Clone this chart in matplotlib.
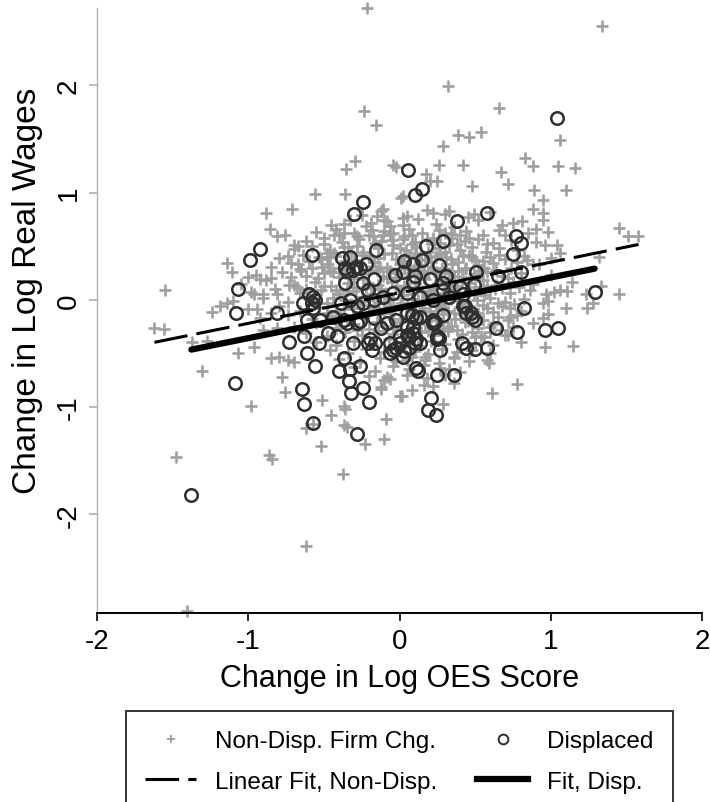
import matplotlib
matplotlib.use('Agg')
import matplotlib.pyplot as plt
from matplotlib.lines import Line2D
import numpy as np

plt.rcParams['font.family'] = ['Liberation Sans', 'DejaVu Sans']

# Non-displaced firm changers: dense core of the cloud (read row by row)
nondisp_core = [
    (-0.25, 0.79), (-0.12, 0.83), (0.05, 0.78), (0.18, 0.84), (0.30, 0.80), (0.45, 0.77), (0.60, 0.82),
    (-0.45, 0.70), (-0.33, 0.74), (-0.22, 0.69), (-0.08, 0.73), (0.02, 0.70), (0.12, 0.75), (0.24, 0.71),
    (0.36, 0.68), (0.52, 0.74), (0.68, 0.70),
    (-0.55, 0.63), (-0.42, 0.66), (-0.30, 0.62), (-0.18, 0.65), (-0.06, 0.61), (0.06, 0.66), (0.15, 0.62),
    (0.26, 0.65), (0.34, 0.61), (0.44, 0.64), (0.55, 0.60), (0.66, 0.65), (0.85, 0.62),
    (-0.62, 0.55), (-0.50, 0.58), (-0.38, 0.54), (-0.27, 0.57), (-0.16, 0.53), (-0.05, 0.56), (0.03, 0.59),
    (0.10, 0.54), (0.18, 0.57), (0.27, 0.53), (0.35, 0.58), (0.43, 0.55), (0.52, 0.57), (0.62, 0.53),
    (0.74, 0.56), (0.90, 0.54),
    (-0.70, 0.47), (-0.58, 0.50), (-0.46, 0.46), (-0.34, 0.49), (-0.24, 0.45), (-0.14, 0.48), (-0.04, 0.51),
    (0.04, 0.46), (0.11, 0.49), (0.19, 0.45), (0.26, 0.48), (0.33, 0.51), (0.40, 0.46), (0.48, 0.49),
    (0.57, 0.45), (0.66, 0.48), (0.78, 0.46),
    (-0.80, 0.39), (-0.64, 0.42), (-0.52, 0.38), (-0.42, 0.41), (-0.30, 0.37), (-0.20, 0.40), (-0.10, 0.43),
    (-0.02, 0.38), (0.06, 0.41), (0.13, 0.37), (0.20, 0.40), (0.27, 0.43), (0.34, 0.38), (0.42, 0.41),
    (0.50, 0.37), (0.60, 0.40), (0.70, 0.38), (0.82, 0.41), (1.00, 0.39),
    (-0.85, 0.31), (-0.72, 0.34), (-0.58, 0.30), (-0.47, 0.33), (-0.37, 0.29), (-0.27, 0.32), (-0.17, 0.35),
    (-0.08, 0.30), (0.00, 0.33), (0.07, 0.29), (0.14, 0.32), (0.21, 0.35), (0.28, 0.30), (0.35, 0.33),
    (0.43, 0.29), (0.52, 0.32), (0.62, 0.34), (0.74, 0.30), (0.92, 0.33),
    (-0.95, 0.23), (-0.78, 0.26), (-0.62, 0.22), (-0.50, 0.25), (-0.40, 0.21), (-0.30, 0.24), (-0.20, 0.27),
    (-0.11, 0.22), (-0.03, 0.25), (0.05, 0.21), (0.12, 0.24), (0.19, 0.27), (0.26, 0.22), (0.33, 0.25),
    (0.41, 0.21), (0.49, 0.24), (0.58, 0.26), (0.68, 0.22), (0.80, 0.25), (1.00, 0.23),
    (-1.05, 0.15), (-0.88, 0.18), (-0.70, 0.14), (-0.56, 0.17), (-0.45, 0.13), (-0.34, 0.16), (-0.24, 0.19),
    (-0.14, 0.14), (-0.05, 0.17), (0.03, 0.13), (0.10, 0.16), (0.17, 0.19), (0.24, 0.14), (0.31, 0.17),
    (0.38, 0.13), (0.46, 0.16), (0.55, 0.18), (0.64, 0.14), (0.75, 0.17), (0.88, 0.15),
    (-0.98, 0.07), (-0.82, 0.10), (-0.66, 0.06), (-0.52, 0.09), (-0.40, 0.05), (-0.29, 0.08), (-0.19, 0.11),
    (-0.09, 0.06), (0.00, 0.09), (0.08, 0.05), (0.15, 0.08), (0.22, 0.11), (0.29, 0.06), (0.37, 0.09),
    (0.45, 0.05), (0.54, 0.08), (0.63, 0.10), (0.73, 0.06), (0.86, 0.09), (1.02, 0.07),
    (-1.10, -0.01), (-0.90, 0.02), (-0.74, -0.02), (-0.60, 0.01), (-0.48, -0.03), (-0.36, 0.00), (-0.25, 0.03),
    (-0.14, -0.02), (-0.04, 0.01), (0.05, -0.03), (0.12, 0.00), (0.19, 0.03), (0.26, -0.02), (0.34, 0.01),
    (0.42, -0.03), (0.51, 0.00), (0.60, 0.02), (0.70, -0.02), (0.82, 0.01), (0.98, -0.01),
    (-1.00, -0.09), (-0.80, -0.06), (-0.66, -0.10), (-0.53, -0.07), (-0.42, -0.11), (-0.31, -0.08),
    (-0.20, -0.05), (-0.10, -0.10), (0.00, -0.07), (0.08, -0.11), (0.16, -0.08), (0.24, -0.05), (0.32, -0.10),
    (0.40, -0.07), (0.49, -0.11), (0.58, -0.08), (0.68, -0.06), (0.80, -0.10), (1.10, -0.08),
    (-0.92, -0.17), (-0.74, -0.14), (-0.58, -0.18), (-0.46, -0.15), (-0.35, -0.19), (-0.24, -0.16),
    (-0.14, -0.13), (-0.04, -0.18), (0.05, -0.15), (0.13, -0.19), (0.21, -0.16), (0.29, -0.13), (0.37, -0.18),
    (0.46, -0.15), (0.55, -0.19), (0.65, -0.16), (0.78, -0.14), (0.95, -0.17),
    (-0.70, -0.25), (-0.55, -0.22), (-0.42, -0.26), (-0.30, -0.23), (-0.20, -0.27), (-0.10, -0.24),
    (0.00, -0.21), (0.09, -0.26), (0.17, -0.23), (0.26, -0.27), (0.34, -0.24), (0.43, -0.21), (0.52, -0.26),
    (0.62, -0.23), (0.75, -0.25), (0.88, -0.22),
    (-0.62, -0.31), (-0.48, -0.34), (-0.36, -0.30), (-0.25, -0.33), (-0.14, -0.29), (-0.04, -0.32),
    (0.06, -0.35), (0.14, -0.30), (0.23, -0.33), (0.32, -0.29), (0.41, -0.32), (0.50, -0.35), (0.60, -0.30),
    (0.72, -0.33),
    (-0.55, -0.39), (-0.42, -0.42), (-0.30, -0.38), (-0.18, -0.41), (-0.07, -0.37), (0.03, -0.40),
    (0.12, -0.43), (0.21, -0.38), (0.30, -0.41), (0.39, -0.37), (0.50, -0.40), (0.62, -0.42), (0.80, -0.39),
    (-0.46, -0.47), (-0.34, -0.50), (-0.22, -0.46), (-0.10, -0.49), (0.00, -0.45), (0.10, -0.48),
    (0.19, -0.51), (0.28, -0.46), (0.38, -0.49), (0.48, -0.47), (0.60, -0.50),
    (-0.40, -0.55), (-0.26, -0.58), (-0.13, -0.54), (-0.02, -0.57), (0.08, -0.53), (0.17, -0.56),
    (0.26, -0.59), (0.36, -0.54), (0.46, -0.57),
    (-0.30, -0.63), (-0.16, -0.66), (-0.04, -0.62), (0.06, -0.65), (0.16, -0.61), (0.27, -0.64), (0.40, -0.67),
    (-0.20, -0.71), (-0.06, -0.74), (0.05, -0.70), (0.18, -0.73), (0.30, -0.70),
    (-0.12, -0.81), (0.08, -0.84), (0.22, -0.80),
    (-0.30, 0.20), (-0.22, 0.12), (-0.15, 0.28), (-0.08, 0.20), (-0.02, 0.13), (0.02, 0.36), (0.09, 0.28),
    (0.16, 0.21), (0.22, 0.30), (0.30, 0.14), (0.36, 0.22), (0.44, 0.30), (-0.26, -0.02), (-0.18, 0.05),
    (-0.10, -0.03), (0.02, 0.04), (0.10, -0.04), (0.18, 0.04), (0.27, -0.06), (0.33, 0.05), (0.40, -0.13),
    (-0.06, -0.12), (0.06, -0.20), (0.15, -0.11), (0.24, -0.19), (0.32, -0.26), (0.44, -0.10), (0.50, 0.12),
    (0.56, 0.30), (-0.40, 0.30), (-0.35, 0.08), (-0.46, 0.40), (-0.12, 0.55), (0.08, 0.52), (0.22, 0.58),
    (0.40, 0.60), (0.30, 0.45), (0.48, 0.40), (0.60, -0.25), (0.55, -0.05),
]

# second, offset pass over the densest part of the cloud
nondisp_dense = [
    (-0.50, 0.52), (-0.40, 0.60), (-0.28, 0.50), (-0.20, 0.60), (-0.10, 0.64), (0.00, 0.48), (0.08, 0.60),
    (0.14, 0.44), (0.23, 0.52), (0.30, 0.62), (0.38, 0.52), (0.46, 0.58), (0.58, 0.52), (0.70, 0.60),
    (-0.60, 0.36), (-0.48, 0.44), (-0.36, 0.36), (-0.25, 0.42), (-0.14, 0.39), (-0.05, 0.44), (0.03, 0.40),
    (0.10, 0.44), (0.17, 0.38), (0.24, 0.41), (0.31, 0.40), (0.39, 0.35), (0.46, 0.42), (0.55, 0.36),
    (0.66, 0.42), (0.78, 0.35),
    (-0.65, 0.27), (-0.54, 0.20), (-0.44, 0.26), (-0.33, 0.20), (-0.24, 0.24), (-0.13, 0.31), (-0.06, 0.27),
    (0.03, 0.29), (0.10, 0.31), (0.16, 0.27), (0.24, 0.26), (0.31, 0.29), (0.39, 0.27), (0.47, 0.20),
    (0.53, 0.27), (0.64, 0.28), (0.72, 0.20),
    (-0.62, 0.10), (-0.50, 0.13), (-0.42, 0.09), (-0.31, 0.12), (-0.21, 0.16), (-0.12, 0.10), (-0.02, 0.20),
    (0.06, 0.12), (0.13, 0.12), (0.20, 0.08), (0.27, 0.18), (0.34, 0.14), (0.41, 0.17), (0.49, 0.06),
    (0.58, 0.13), (0.68, 0.11), (0.79, 0.12),
    (-0.55, -0.03), (-0.44, 0.02), (-0.32, -0.04), (-0.20, 0.00), (-0.08, 0.03), (0.01, -0.03), (0.08, 0.01),
    (0.15, -0.02), (0.23, 0.02), (0.30, -0.03), (0.38, 0.03), (0.46, -0.06), (0.56, 0.04), (0.65, -0.03),
    (0.76, -0.04),
    (-0.48, -0.12), (-0.37, -0.09), (-0.26, -0.12), (-0.16, -0.08), (-0.06, -0.06), (0.04, -0.08),
    (0.12, -0.14), (0.20, -0.10), (0.28, -0.08), (0.36, -0.12), (0.45, -0.20), (0.52, -0.12), (0.62, -0.11),
    (0.72, -0.19),
    (-0.40, -0.20), (-0.28, -0.28), (-0.15, -0.21), (-0.02, -0.26), (0.10, -0.22), (0.19, -0.29),
    (0.29, -0.21), (0.38, -0.28), (0.48, -0.30), (0.56, -0.35), (0.67, -0.28),
]

# Non-displaced firm changers: scattered points away from the core
nondisp_outer = [
    (-0.215, 2.72), (-0.237, 1.76), (-0.157, 1.63), (-0.296, 1.29), (-0.356, 1.22), (-0.04, 1.26),
    (-0.02, 1.24), (-0.56, 0.99), (-0.36, 0.99), (-0.71, 0.85), (-0.885, 0.81), (-0.856, 0.66),
    (-0.81, 0.59), (-0.76, 0.60), (-0.67, 0.50), (-0.70, 0.51), (-0.74, 0.41), (-1.14, 0.34),
    (-1.105, 0.26), (-1.00, 0.21), (-0.92, 0.19), (-0.85, 0.20), (-1.55, 0.09), (-0.67, 0.33),
    (-0.66, 0.29), (-0.72, 0.21), (-0.73, 0.14), (-0.68, 0.12), (-0.96, 0.05), (-0.90, 0.05),
    (-0.81, 0.05), (-0.43, 0.60), (-0.37, 0.62), (-0.37, 0.71), (-0.28, 0.59), (-0.19, 0.72),
    (-0.15, 0.78), (-0.11, 0.85), (-0.10, 0.74), (-0.06, 0.69), (-0.04, 0.62), (-0.175, 0.59),
    (-0.11, 0.60), (0.01, 0.95), (0.02, 0.76), (0.02, 0.57), (-0.53, 0.40), (-0.48, 0.40),
    (-0.435, 0.44), (-0.51, 0.31), (-0.46, 0.27), (-0.37, 0.49), (-0.32, 0.44),
    (1.34, 2.55), (0.32, 1.99), (0.66, 1.79), (0.39, 1.54), (0.46, 1.52), (0.54, 1.56), (0.29, 1.43),
    (1.06, 1.49), (0.26, 1.26), (0.42, 1.26), (0.83, 1.32), (0.885, 1.25), (1.05, 1.25), (1.16, 1.23),
    (0.67, 1.19), (0.175, 1.17), (0.20, 1.105), (0.25, 1.105), (0.48, 1.06), (0.72, 1.08), (0.89, 1.02),
    (1.10, 1.02), (0.025, 0.97), (0.95, 0.93), (0.885, 0.85), (0.95, 0.81), (0.95, 0.74), (0.33, 0.83),
    (0.22, 0.81), (0.49, 0.80), (1.45, 0.67), (1.51, 0.59), (1.58, 0.59), (0.90, 0.66), (0.98, 0.63),
    (0.81, 0.73), (0.75, 0.72), (0.96, 0.51), (1.04, 0.51), (1.06, 0.44), (1.32, 0.40), (1.14, 0.17),
    (1.06, 0.09), (1.105, 0.08), (1.45, 0.05), (1.33, 0.13), (1.23, 0.05), (0.97, 0.05), (0.84, 0.37),
    (0.885, 0.33),
    (-1.62, -0.265), (-1.56, -0.27), (-1.48, -1.47), (-0.86, -1.45), (-0.84, -1.48), (-0.62, -2.30),
    (-1.405, -2.90), (-0.375, -1.62), (-1.305, -0.66), (-1.07, -0.50), (-0.98, -0.99), (-1.37, -0.395),
    (-1.27, -0.38), (-1.24, -0.11), (-1.185, -0.06), (-1.14, -0.03), (-0.96, -0.44), (-0.85, -0.54),
    (-0.78, -0.72), (-0.76, -0.86), (-0.51, -0.93), (-0.45, -1.07), (-0.52, -1.36), (-0.37, -0.99),
    (-0.36, -1.02), (-0.37, -1.17), (-0.35, -1.19), (-0.23, -1.34), (-0.10, -1.30), (-0.09, -1.11),
    (0.00, -0.90), (-0.62, -1.20), (-0.57, -1.16), (-0.12, -0.83), (-0.10, -0.75), (-0.08, -0.72),
    (-0.80, -0.53), (-0.74, -0.56), (-0.70, -0.58), (-0.90, -0.28), (-0.81, -0.265), (-0.85, -0.12),
    (-0.94, -0.09),
    (0.96, -0.44), (1.145, -0.43), (0.78, -0.785), (0.61, -0.87), (0.59, -0.59), (0.58, -0.56),
    (0.285, -0.97), (0.16, -0.79), (0.36, -0.78), (0.015, -0.90), (1.24, -0.08), (1.28, -0.03),
    (0.98, -0.13), (0.95, -0.03), (0.73, -0.08), (0.73, -0.16), (0.70, -0.33), (0.54, -0.34),
    (0.36, -0.53), (0.33, -0.65), (0.17, -0.53), (0.05, -0.56),
]

# Displaced workers
displaced = [
    (0.055, 1.21), (1.04, 1.69), (0.15, 1.03), (0.10, 0.98), (-0.24, 0.91), (-0.30, 0.80), (0.58, 0.81),
    (0.38, 0.73), (-0.92, 0.47), (-0.99, 0.37), (-0.58, 0.42), (-0.157, 0.46), (0.285, 0.55), (0.175, 0.50),
    (0.77, 0.59), (0.80, 0.53), (0.75, 0.43), (0.80, 0.26), (0.505, 0.255), (0.65, 0.22), (1.29, 0.07),
    (-1.07, 0.10), (-1.08, -0.12), (-1.085, -0.78), (-1.376, -1.82), (-0.81, -0.12), (-0.645, -0.83),
    (-0.63, -0.97), (-0.57, -1.15), (-0.61, -0.50), (-0.56, -0.62), (-0.73, -0.39), (-0.63, -0.34),
    (-0.53, -0.40), (-0.47, -0.31), (-0.37, -0.54), (-0.40, -0.66), (-0.325, -0.65), (-0.26, -0.62),
    (-0.335, -0.76), (-0.32, -0.87), (-0.24, -0.82), (-0.20, -0.95), (-0.28, -1.25), (0.82, -0.08),
    (0.64, -0.265), (0.78, -0.30), (0.96, -0.28), (1.05, -0.265), (0.43, -0.06), (0.47, -0.12),
    (0.50, -0.19), (0.41, -0.40), (0.44, -0.45), (0.50, -0.46), (0.58, -0.45), (0.235, -0.21),
    (0.25, -0.37), (0.27, -0.47), (0.11, -0.64), (0.12, -0.66), (0.25, -0.70), (0.36, -0.70),
    (0.21, -0.92), (0.19, -1.03), (0.24, -1.07), (0.10, -0.40), (0.06, -0.45), (0.03, -0.48),
    (0.11, -0.17), (0.05, -0.25), (0.08, -0.14), (0.29, -0.14), (0.22, -0.22),
    (-0.38, 0.39), (-0.33, 0.40), (-0.35, 0.27), (-0.29, 0.31), (-0.22, 0.33), (-0.36, 0.16),
    (-0.24, 0.16), (-0.17, 0.19), (0.03, 0.36), (-0.03, 0.23), (0.02, 0.26), (-0.60, 0.05), (-0.57, 0.03),
    (0.09, 0.33), (0.15, 0.37), (0.26, 0.32), (0.09, 0.17), (0.31, 0.22), (-0.205, 0.09), (-0.56, 0.00),
    (-0.64, -0.03), (-0.57, -0.08), (-0.39, -0.03), (-0.33, 0.00), (-0.28, -0.06), (-0.24, -0.03),
    (-0.17, 0.00), (-0.11, 0.03), (-0.04, 0.06), (-0.61, -0.19), (-0.525, -0.19), (-0.44, -0.16),
    (-0.35, -0.22), (-0.26, -0.20), (-0.17, -0.17), (-0.085, -0.22), (-0.02, -0.19), (-0.415, -0.34),
    (-0.305, -0.40), (-0.195, -0.37), (-0.06, -0.40), (-0.21, -0.40), (-0.16, -0.40), (-0.12, -0.265),
    (-0.06, -0.50), (-0.04, -0.47), (0.02, -0.53), (0.005, -0.34), (-0.37, -0.19), (-0.28, -0.22),
    (-0.58, -0.03), (-0.18, -0.47), (-0.02, -0.45), (0.00, -0.40), (0.26, -0.36), (0.05, -0.33),
    (0.11, -0.37), (0.09, -0.31), (0.10, 0.22), (0.20, 0.19), (0.29, 0.16), (0.40, 0.12), (0.49, 0.14),
    (0.05, 0.06), (0.135, 0.03), (0.22, 0.00), (0.29, 0.09), (0.33, 0.03), (0.42, 0.05), (0.42, -0.06),
    (0.44, -0.12), (0.48, -0.16), (0.05, -0.12), (0.135, -0.16), (0.22, -0.19), (0.09, -0.25),
    (0.25, -0.34), (0.135, -0.40), (0.06, -0.34), (-0.36, 0.30), (-0.305, 0.28), (-0.26, 0.30),
]

# linear fits (intercept, slope)
fit_nondisp = (0.065, 0.285)
fit_disp = (-0.075, 0.283)

x_ticks = [-2, -1, 0, 1, 2]
y_ticks = [-2, -1, 0, 1, 2]

nd = np.array(nondisp_core + nondisp_dense + nondisp_outer)
dp = np.array(displaced)

fig = plt.figure(figsize=(7.1, 8.03), dpi=100)
ax = fig.add_axes([97 / 710, 189 / 803, 605 / 710, 605 / 803])

gray = '#9f9f9f'
dark = '#2e2e2e'

ax.plot(nd[:, 0], nd[:, 1], linestyle='none', marker='+', ms=8, mew=1.9, color=gray,
        zorder=2, clip_on=False)
ax.plot(dp[:, 0], dp[:, 1], linestyle='none', marker='o', ms=9, mew=1.8, mfc='none', mec=dark,
        zorder=3, clip_on=False)

xs = np.array([nd[:, 0].min(), nd[:, 0].max()])
ax.plot(xs, fit_nondisp[0] + fit_nondisp[1] * xs, color='black', lw=2.2, dashes=(11, 3), zorder=4)
xs = np.array([dp[:, 0].min(), dp[:, 0].max()])
ax.plot(xs, fit_disp[0] + fit_disp[1] * xs, color='black', lw=4.5, solid_capstyle='round', zorder=5)

ax.set_xlim(-2, 2)
ax.set_ylim(-2.92, 2.72)
ax.set_xticks(x_ticks)
ax.set_xticklabels([str(t) for t in x_ticks])
ax.set_yticks(y_ticks)
ax.set_yticklabels([str(t) for t in y_ticks], rotation=90, va='center')

ax.spines['top'].set_visible(False)
ax.spines['right'].set_visible(False)
ax.spines['left'].set_color('#b0b0b0')
ax.spines['left'].set_linewidth(1.0)
ax.spines['bottom'].set_linewidth(1.4)
ax.tick_params(axis='both', direction='out', length=6, width=1.2, labelsize=20, pad=5)
ax.tick_params(axis='y', color='#b0b0b0')

ax.set_xlabel('Change in Log OES Score', fontsize=22, labelpad=6)
ax.set_ylabel('Change in Log Real Wages', fontsize=24)
ax.yaxis.set_label_coords(-0.089, 0.534)

handles = [
    Line2D([], [], linestyle='none', marker='+', ms=6, mew=1.4, color=gray),
    Line2D([], [], color='black', lw=2.2, dashes=(11, 3)),
    Line2D([], [], linestyle='none', marker='o', ms=7, mew=1.4, mfc='none', mec=dark),
    Line2D([], [], color='black', lw=4.5),
]
labels = ['Non-Disp. Firm Chg.', 'Linear Fit, Non-Disp.', 'Displaced', 'Fit, Disp.']
leg = fig.legend(handles, labels, ncol=2, loc='upper left',
                 bbox_to_anchor=(126 / 710, 1 - 712 / 803, 547 / 710, 0), mode='expand',
                 fontsize=17.5, frameon=True, fancybox=False, edgecolor='black',
                 handlelength=2.1, handletextpad=0.78, borderpad=0.8, labelspacing=0.75,
                 borderaxespad=0)
leg.get_frame().set_linewidth(1.4)

fig.savefig('out.png', dpi=100)
